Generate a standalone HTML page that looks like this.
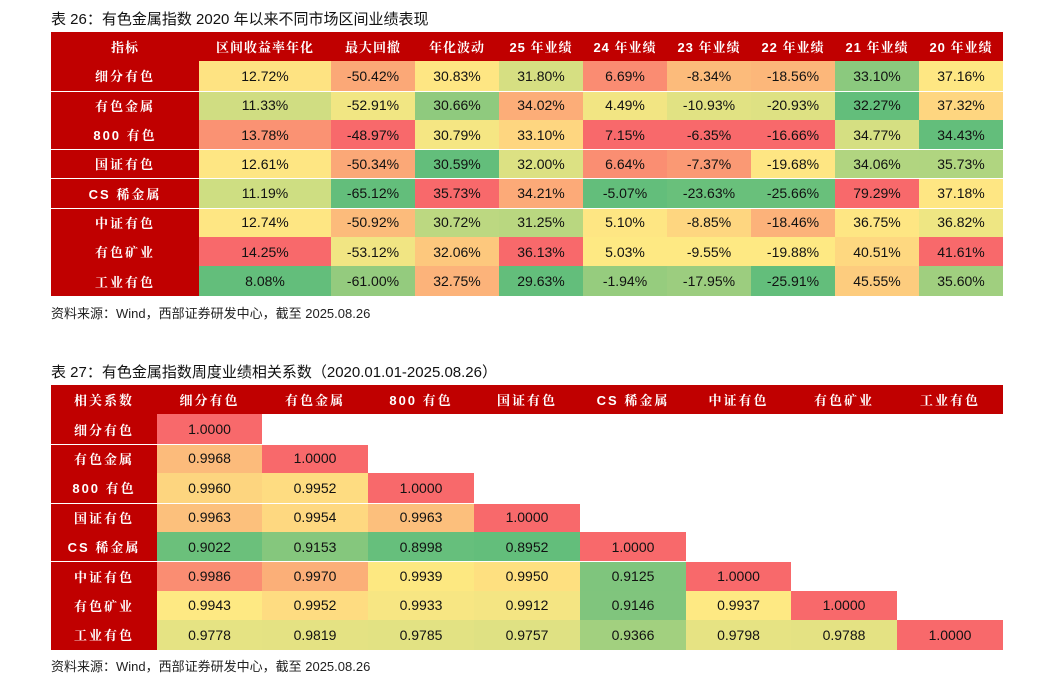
<!DOCTYPE html>
<html><head><meta charset="utf-8"><style>
body{margin:0;width:1053px;height:687px;background:#fff;position:relative;overflow:hidden;font-family:"Liberation Sans","Noto Sans CJK SC",sans-serif}
.t{position:absolute;left:51px;font-size:15px;color:#111;white-space:nowrap}
.s{position:absolute;left:51px;font-size:13px;color:#222;white-space:nowrap}
.c{position:absolute;display:flex;align-items:center;justify-content:center;font-size:14px;color:#111;box-sizing:border-box}
.h{background:#c00000;color:#fff;font-weight:bold;font-size:13px;font-family:"Liberation Sans","Noto Serif CJK SC",serif;letter-spacing:1px;white-space:nowrap}
.rl{letter-spacing:2px}
.sep{position:absolute;height:1px;background:#fff}
</style></head><body>
<div class="t" style="top:8px">表 26：有色金属指数 2020 年以来不同市场区间业绩表现</div>
<div class="s" style="top:303px">资料来源：Wind，西部证券研发中心，截至 2025.08.26</div>
<div class="t" style="top:361px">表 27：有色金属指数周度业绩相关系数（2020.01.01-2025.08.26）</div>
<div class="s" style="top:656px">资料来源：Wind，西部证券研发中心，截至 2025.08.26</div>
<div id="t1"></div>
<div id="t2"></div>
<script>
const t1Headers=["指标","区间收益率年化","最大回撤","年化波动","25 年业绩","24 年业绩","23 年业绩","22 年业绩","21 年业绩","20 年业绩"];
const t1Rows=["细分有色","有色金属","800 有色","国证有色","CS 稀金属","中证有色","有色矿业","工业有色"];
const t1Values=[
["12.72%","-50.42%","30.83%","31.80%","6.69%","-8.34%","-18.56%","33.10%","37.16%"],
["11.33%","-52.91%","30.66%","34.02%","4.49%","-10.93%","-20.93%","32.27%","37.32%"],
["13.78%","-48.97%","30.79%","33.10%","7.15%","-6.35%","-16.66%","34.77%","34.43%"],
["12.61%","-50.34%","30.59%","32.00%","6.64%","-7.37%","-19.68%","34.06%","35.73%"],
["11.19%","-65.12%","35.73%","34.21%","-5.07%","-23.63%","-25.66%","79.29%","37.18%"],
["12.74%","-50.92%","30.72%","31.25%","5.10%","-8.85%","-18.46%","36.75%","36.82%"],
["14.25%","-53.12%","32.06%","36.13%","5.03%","-9.55%","-19.88%","40.51%","41.61%"],
["8.08%","-61.00%","32.75%","29.63%","-1.94%","-17.95%","-25.91%","45.55%","35.60%"]];
const t1Colors=[
["#fee382","#fba877","#fee683","#d6df82","#fa8c72","#fcbb7b","#fcb77a","#8bc97e","#fee783"],
["#d0dd82","#f1e683","#8fca7e","#fcad78","#f2e583","#e1e283","#dee183","#63be7b","#fed680"],
["#fa9273","#f8696b","#f5e683","#fed680","#f8696b","#f8696b","#f8696b","#d5df82","#63be7b"],
["#fee683","#fba877","#63be7b","#dce183","#fa8e72","#fa9974","#fee683","#b1d580","#b0d580"],
["#cede82","#63be7b","#f8696b","#fcaa78","#63be7b","#69c07b","#69c07b","#f8696b","#fee683"],
["#fee683","#fcbb7b","#bcd881","#b9d780","#fee683","#fed680","#fcb27a","#fee683","#eee683"],
["#f8696b","#f1e583","#fdc87d","#f8696b","#fee983","#fee983","#fee983","#fed880","#f8696b"],
["#63be7b","#94cb7e","#fcb37a","#63be7b","#96cc7e","#9ccd7f","#63be7b","#fdcc7e","#a0cf7f"]];
const t2Headers=["相关系数","细分有色","有色金属","800 有色","国证有色","CS 稀金属","中证有色","有色矿业","工业有色"];
const t2Values=[
["1.0000"],
["0.9968","1.0000"],
["0.9960","0.9952","1.0000"],
["0.9963","0.9954","0.9963","1.0000"],
["0.9022","0.9153","0.8998","0.8952","1.0000"],
["0.9986","0.9970","0.9939","0.9950","0.9125","1.0000"],
["0.9943","0.9952","0.9933","0.9912","0.9146","0.9937","1.0000"],
["0.9778","0.9819","0.9785","0.9757","0.9366","0.9798","0.9788","1.0000"]];
const t2Colors=[
["#f8696b"],
["#fcbb7b","#f8696b"],
["#fdd57f","#fedc81","#f8696b"],
["#fcc07c","#fed880","#fcbf7c","#f8696b"],
["#6bc07b","#85c77d","#66bf7c","#63be7b","#f8696b"],
["#fa8d72","#fbaf78","#fde881","#fee080","#7fc57d","#f8696b"],
["#fee983","#fedc81","#f7e683","#f4e583","#80c57d","#fee983","#f8696b"],
["#e5e383","#e4e283","#e2e283","#dfe183","#a2d07f","#e6e383","#e4e283","#f8696b"]];

function cell(parent,x,y,w,h,txt,bg,cls,name){
  const d=document.createElement('div');
  d.className='c '+(cls||'');
  d.style.cssText=`left:${x}px;top:${y}px;width:${w}px;height:${h}px;`+(bg?`background:${bg};`:'');
  d.textContent=txt;
  
  
  parent.appendChild(d);
}
function sep(parent,x,y,w){
  const d=document.createElement('div');
  d.className='sep';
  d.style.cssText=`left:${x}px;top:${Math.round(y)}px;width:${w}px;`;
  
  
  parent.appendChild(d);
}
const b1=[51,199,331,415,499,583,667,751,835,919,1003];
const top1=32,hh=29.3;
const p1=document.getElementById('t1');
t1Headers.forEach((h,i)=>cell(p1,b1[i],top1,b1[i+1]-b1[i],hh,h,'#c00000','h','header-cell'));
t1Rows.forEach((r,ri)=>{
  const y=top1+hh*(ri+1);
  cell(p1,b1[0],y,b1[1]-b1[0],hh,r,'#c00000','h rl','row-label');
  t1Values[ri].forEach((v,ci)=>cell(p1,b1[ci+1],y,b1[ci+2]-b1[ci+1],hh,v,t1Colors[ri][ci],'','value-cell'));
});
[1,3,5].forEach(k=>sep(p1,51,top1+hh*(k+1),952));
const b2=[51,157,262,368,474,580,686,791,897,1003];
const top2=385,h2=29.4;
const p2=document.getElementById('t2');
t2Headers.forEach((h,i)=>cell(p2,b2[i],top2,b2[i+1]-b2[i],h2,h,'#c00000','h rl','header-cell'));
t1Rows.forEach((r,ri)=>{
  const y=top2+h2*(ri+1);
  cell(p2,b2[0],y,b2[1]-b2[0],h2,r,'#c00000','h rl','row-label');
  t2Values[ri].forEach((v,ci)=>cell(p2,b2[ci+1],y,b2[ci+2]-b2[ci+1],h2,v,t2Colors[ri][ci],'','correlation-cell'));
});
[1,3,5].forEach(k=>sep(p2,51,top2+h2*(k+1),952));
</script>
</body></html>
